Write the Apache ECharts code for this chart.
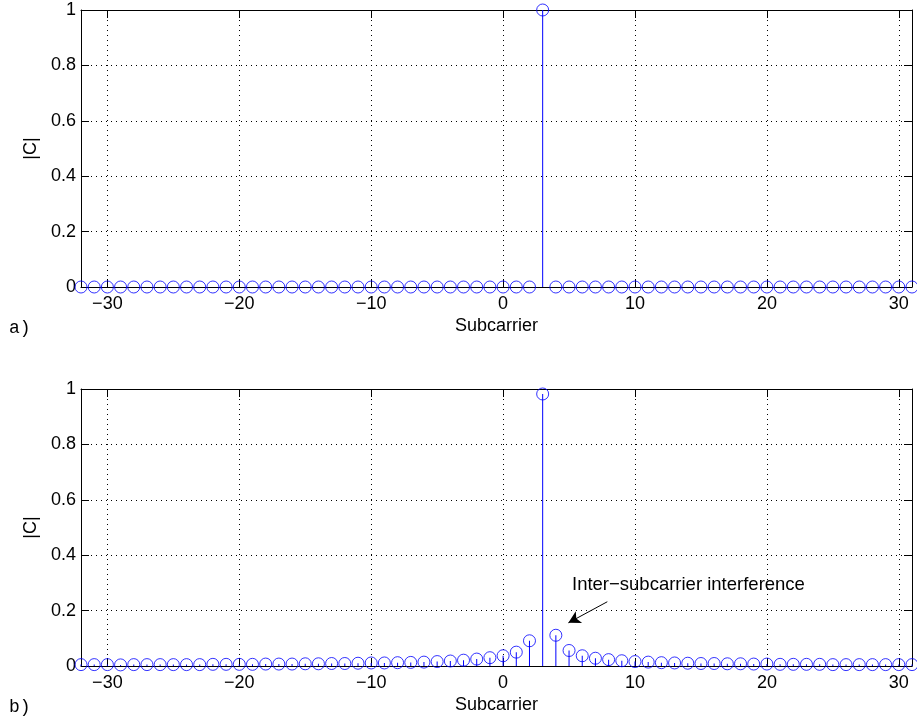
<!DOCTYPE html>
<html>
<head>
<meta charset="utf-8">
<script src="https://cdn.jsdelivr.net/npm/echarts@6/dist/echarts.min.js"></script>
<style>
  html, body { margin: 0; padding: 0; background: #fff; }
  #chart { width: 917px; height: 719px; }
</style>
</head>
<body>
<div id="chart"></div>
<script>
// subcarrier index
var subcarriers = [-32, -31, -30, -29, -28, -27, -26, -25, -24, -23, -22, -21, -20, -19, -18, -17,
  -16, -15, -14, -13, -12, -11, -10, -9, -8, -7, -6, -5, -4, -3, -2, -1,
  0, 1, 2, 3, 4, 5, 6, 7, 8, 9, 10, 11, 12, 13, 14, 15,
  16, 17, 18, 19, 20, 21, 22, 23, 24, 25, 26, 27, 28, 29, 30, 31];

// a) ideal: only subcarrier 3
var magIdeal = [0, 0, 0, 0, 0, 0, 0, 0, 0, 0, 0, 0, 0, 0, 0, 0,
  0, 0, 0, 0, 0, 0, 0, 0, 0, 0, 0, 0, 0, 0, 0, 0,
  0, 0, 0, 1, 0, 0, 0, 0, 0, 0, 0, 0, 0, 0, 0, 0,
  0, 0, 0, 0, 0, 0, 0, 0, 0, 0, 0, 0, 0, 0, 0, 0];

// b) with frequency offset -> leakage
var magOffset = [0.005, 0.005, 0.005, 0.004, 0.005, 0.005, 0.005, 0.005, 0.005, 0.005, 0.006, 0.006, 0.006, 0.006, 0.007, 0.007,
  0.007, 0.008, 0.008, 0.009, 0.009, 0.010, 0.011, 0.011, 0.012, 0.013, 0.014, 0.016, 0.018, 0.021, 0.025, 0.030,
  0.037, 0.050, 0.091, 0.982, 0.111, 0.056, 0.037, 0.028, 0.023, 0.019, 0.016, 0.014, 0.012, 0.011, 0.010, 0.009,
  0.009, 0.008, 0.008, 0.007, 0.007, 0.006, 0.006, 0.006, 0.006, 0.005, 0.005, 0.005, 0.005, 0.005, 0.005, 0.005];

var xMin = -32, xMax = 31;
var fontMain = 'Liberation Sans, Arial, Helvetica, sans-serif';
var fontMono = 'Liberation Mono, Courier New, monospace';
var stemColor = '#0000ff';

var chart = echarts.init(document.getElementById('chart'), null, { renderer: 'canvas' });

function pairs(vals) {
  return subcarriers.map(function (x, i) { return [x, vals[i]]; });
}

function xAxisMain(gridIndex) {
  return {
    type: 'value', gridIndex: gridIndex, min: xMin, max: xMax, splitNumber: 6,
    name: 'Subcarrier', nameLocation: 'middle', nameGap: 30,
    nameTextStyle: { color: '#000', fontSize: 18, fontFamily: fontMain },
    axisLine: { show: true, onZero: false, lineStyle: { color: '#000', width: 1 } },
    axisTick: { show: true, inside: true, length: 8, lineStyle: { color: '#000' } },
    axisLabel: {
      color: '#000', fontSize: 18, fontFamily: fontMain, margin: 8,
      showMinLabel: false, showMaxLabel: false,
      formatter: function (v) { return v < 0 ? '\u2212' + Math.abs(v) : String(v); }
    },
    splitLine: { show: true, lineStyle: { color: '#000', type: [1, 4], width: 1 } }
  };
}

function xAxisTop(gridIndex) {
  return {
    type: 'value', gridIndex: gridIndex, position: 'top', min: xMin, max: xMax, splitNumber: 6,
    axisLine: { show: true, onZero: false, lineStyle: { color: '#000', width: 1 } },
    axisTick: { show: true, inside: true, length: 8, lineStyle: { color: '#000' } },
    axisLabel: { show: false },
    splitLine: { show: false }
  };
}

function yAxisMain(gridIndex) {
  return {
    type: 'value', gridIndex: gridIndex, min: 0, max: 1, interval: 0.2,
    name: '|C|', nameLocation: 'middle', nameGap: 35,
    nameTextStyle: { color: '#000', fontSize: 18, fontFamily: fontMain },
    axisLine: { show: true, onZero: false, lineStyle: { color: '#000', width: 1 } },
    axisTick: { show: true, inside: true, length: 8, lineStyle: { color: '#000' } },
    axisLabel: { color: '#000', fontSize: 18, fontFamily: fontMain, margin: 5 },
    splitLine: { show: true, lineStyle: { color: '#000', type: [1, 4], width: 1 } }
  };
}

function yAxisRight(gridIndex) {
  return {
    type: 'value', gridIndex: gridIndex, position: 'right', min: 0, max: 1, interval: 0.2,
    axisLine: { show: true, onZero: false, lineStyle: { color: '#000', width: 1 } },
    axisTick: { show: true, inside: true, length: 8, lineStyle: { color: '#000' } },
    axisLabel: { show: false },
    splitLine: { show: false }
  };
}

function stems(axisIdx, vals) {
  return {
    type: 'bar', xAxisIndex: axisIdx, yAxisIndex: axisIdx,
    barWidth: 1, data: pairs(vals),
    itemStyle: { color: stemColor },
    silent: true, z: 3
  };
}

function heads(axisIdx, vals) {
  return {
    type: 'scatter', xAxisIndex: axisIdx, yAxisIndex: axisIdx,
    symbol: 'circle', symbolSize: 12, clip: false,
    data: pairs(vals),
    itemStyle: { color: 'rgba(0,0,0,0)', borderColor: stemColor, borderWidth: 1 },
    silent: true, z: 4
  };
}

var bottomHeads = heads(1, magOffset);
bottomHeads.markLine = {
  silent: true,
  symbol: ['none', 'arrow'],
  symbolSize: [10, 12],
  label: { show: false },
  lineStyle: { color: '#000', width: 1, type: 'solid' },
  data: [[{ coord: [7.9, 0.232] }, { coord: [4.95, 0.156] }]]
};

chart.setOption({
  animation: false,
  backgroundColor: '#fff',
  grid: [
    { left: 81, right: 5, top: 10, height: 277 },
    { left: 81, right: 5, top: 389, height: 277 }
  ],
  xAxis: [xAxisMain(0), xAxisMain(1), xAxisTop(0), xAxisTop(1)],
  yAxis: [yAxisMain(0), yAxisMain(1), yAxisRight(0), yAxisRight(1)],
  series: [
    stems(0, magIdeal),
    heads(0, magIdeal),
    stems(1, magOffset),
    bottomHeads
  ],
  graphic: [
    { type: 'text', left: 9, top: 319, style: { text: 'a)', fill: '#000', font: '18px ' + fontMono } },
    { type: 'text', left: 9, top: 698, style: { text: 'b)', fill: '#000', font: '18px ' + fontMono } },
    { type: 'text', left: 572, top: 575, style: { text: 'Inter\u2212subcarrier interference', fill: '#000', font: '18.5px ' + fontMain } }
  ]
});
</script>
</body>
</html>
